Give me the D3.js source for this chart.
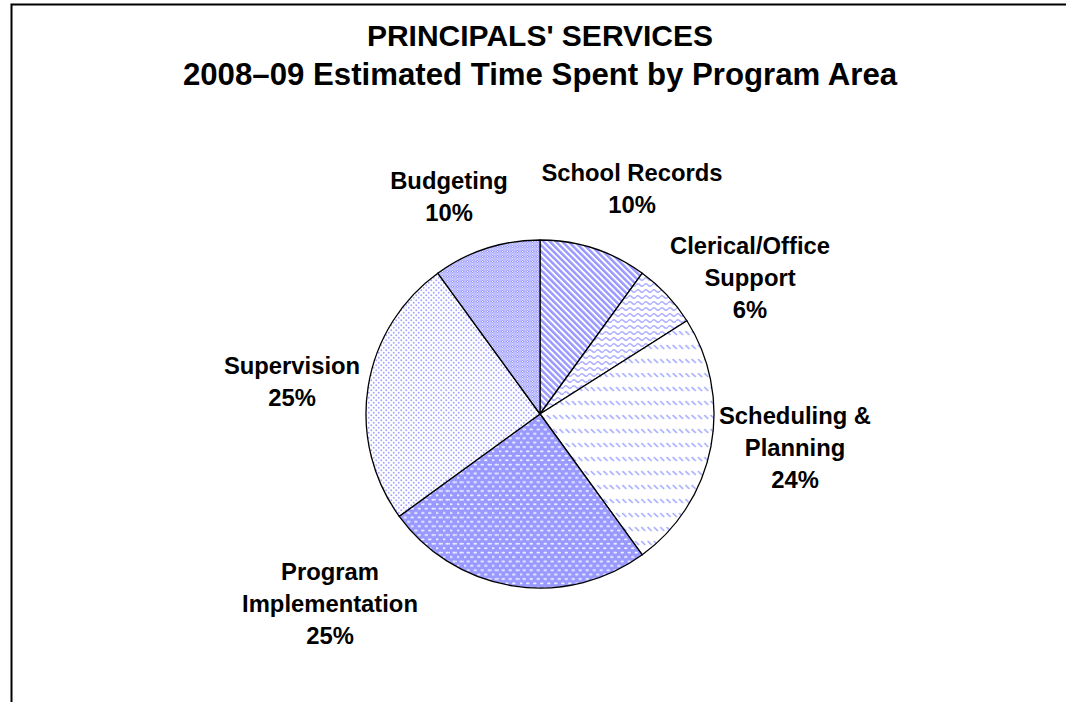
<!DOCTYPE html>
<html>
<head>
<meta charset="utf-8">
<script src="https://cdn.jsdelivr.net/npm/d3@7"></script>
<style>
  html, body { margin: 0; padding: 0; background: #fff; overflow: hidden; }
  svg { display: block; }
  text { font-family: "Liberation Sans", Arial, sans-serif; font-weight: bold; fill: #000; }
</style>
</head>
<body>
<svg id="chart" width="1066" height="702"></svg>
<script>
// Program areas, clockwise from 12 o'clock
const categories = ["School Records", "Clerical/Office Support", "Scheduling & Planning",
                    "Program Implementation", "Supervision", "Budgeting"];
const percents = [10, 6, 24, 25, 25, 10];
const labelLines = [
  ["School Records"],
  ["Clerical/Office", "Support"],
  ["Scheduling &", "Planning"],
  ["Program", "Implementation"],
  ["Supervision"],
  ["Budgeting"]
];
const titleLines = ["PRINCIPALS' SERVICES", "2008\u201309 Estimated Time Spent by Program Area"];
const patternIds = ["stripes", "waves", "dashdiag", "bricks", "dots", "plaid"];

// Layout
const W = 1066, H = 702;
const cx = 540, cy = 414, radius = 174;
const lineH = 32;
// label block centres relative to the pie centre
const labelOffsets = [[92, -226], [210, -137], [255, 33], [-210, 189], [-248, -33], [-91, -218]];
const BLUE = "#9999ff";

const svg = d3.select("#chart");
const defs = svg.append("defs");

// --- fill patterns ---
// wide downward diagonal stripes
{
  const p = defs.append("pattern").attr("id", "stripes").attr("patternUnits", "userSpaceOnUse")
    .attr("width", 4.4).attr("height", 4.4).attr("patternTransform", "rotate(-45)");
  p.append("rect").attr("width", 4.4).attr("height", 4.4).attr("fill", "#fff");
  p.append("rect").attr("width", 2.5).attr("height", 4.4).attr("fill", BLUE);
}
// waves
{
  const p = defs.append("pattern").attr("id", "waves").attr("patternUnits", "userSpaceOnUse")
    .attr("width", 8).attr("height", 6);
  p.append("rect").attr("width", 8).attr("height", 6).attr("fill", "#fff");
  p.append("path").attr("d", "M0,3 Q2,0.5 4,3 T8,3").attr("fill", "none")
    .attr("stroke", "#adadff").attr("stroke-width", 1.5);
}
// dashed downward diagonals
{
  const p = defs.append("pattern").attr("id", "dashdiag").attr("patternUnits", "userSpaceOnUse")
    .attr("width", 6.3).attr("height", 14);
  p.append("rect").attr("width", 6.3).attr("height", 14).attr("fill", "#fff");
  p.append("path").attr("d", "M0.5,1 L4.5,5").attr("stroke", "#a8aeff").attr("stroke-width", 1.7);
}
// blue with small white dashes in offset rows
{
  const p = defs.append("pattern").attr("id", "bricks").attr("patternUnits", "userSpaceOnUse")
    .attr("width", 7).attr("height", 8.8);
  p.append("rect").attr("width", 7).attr("height", 8.8).attr("fill", BLUE);
  p.append("ellipse").attr("cx", 1.75).attr("cy", 2.2).attr("rx", 1.9).attr("ry", 0.9).attr("fill", "#eef0ff");
  p.append("ellipse").attr("cx", 5.25).attr("cy", 6.6).attr("rx", 1.9).attr("ry", 0.9).attr("fill", "#eef0ff");
}
// light dots
{
  const p = defs.append("pattern").attr("id", "dots").attr("patternUnits", "userSpaceOnUse")
    .attr("width", 5).attr("height", 5);
  p.append("rect").attr("width", 5).attr("height", 5).attr("fill", "#fff");
  p.append("circle").attr("cx", 1.25).attr("cy", 1.25).attr("r", 0.95).attr("fill", "#a4a4ff");
  p.append("circle").attr("cx", 3.75).attr("cy", 3.75).attr("r", 0.95).attr("fill", "#a4a4ff");
}
// blue plaid
{
  const p = defs.append("pattern").attr("id", "plaid").attr("patternUnits", "userSpaceOnUse")
    .attr("width", 5).attr("height", 5);
  p.append("rect").attr("width", 5).attr("height", 5).attr("fill", BLUE);
  p.append("path").attr("d", "M0,2.5 L2.5,0 L5,2.5 L2.5,5 Z").attr("fill", "none")
    .attr("stroke", "#e4e4ff").attr("stroke-width", 1);
  p.append("rect").attr("x", 2).attr("y", 2).attr("width", 1).attr("height", 1).attr("fill", "#fff");
  p.append("circle").attr("cx", 0).attr("cy", 0).attr("r", 0.7).attr("fill", "#fff");
  p.append("circle").attr("cx", 5).attr("cy", 0).attr("r", 0.7).attr("fill", "#fff");
  p.append("circle").attr("cx", 0).attr("cy", 5).attr("r", 0.7).attr("fill", "#fff");
  p.append("circle").attr("cx", 5).attr("cy", 5).attr("r", 0.7).attr("fill", "#fff");
}

// frame (open on the right and bottom)
svg.append("path")
  .attr("d", `M11.5,${H} V4.5 H${W}`)
  .attr("fill", "none").attr("stroke", "#000").attr("stroke-width", 2);

// title
const titleSizes = [30, 31.2];
svg.append("g").selectAll("text").data(titleLines).join("text")
  .attr("x", 540).attr("y", (d, i) => 46 + i * 39)
  .attr("text-anchor", "middle").attr("font-size", (d, i) => titleSizes[i])
  .text(d => d);

// pie
const data = categories.map((c, i) => ({ name: c, value: percents[i], lines: labelLines[i], pat: patternIds[i], off: labelOffsets[i] }));
const pie = d3.pie().value(d => d.value).sort(null);
const arc = d3.arc().innerRadius(0).outerRadius(radius);
const arcs = pie(data);

const g = svg.append("g").attr("transform", `translate(${cx},${cy})`);
g.selectAll("path").data(arcs).join("path")
  .attr("d", arc)
  .attr("fill", d => `url(#${d.data.pat})`)
  .attr("stroke", "#000").attr("stroke-width", 1.3).attr("stroke-linejoin", "round");

// labels: name lines followed by the percentage
const lbl = g.selectAll("g.lbl").data(arcs).join("g").attr("class", "lbl")
  .attr("transform", d => `translate(${d.data.off[0]},${d.data.off[1]})`);
lbl.each(function(d) {
  const lines = d.data.lines.concat([`${d.data.value}%`]);
  const n = lines.length;
  d3.select(this).selectAll("text").data(lines).join("text")
    .attr("text-anchor", "middle")
    .attr("font-size", 23.8)
    .attr("y", (t, i) => (i - (n - 1) / 2) * lineH + 8.5)
    .text(t => t);
});
</script>
</body>
</html>
